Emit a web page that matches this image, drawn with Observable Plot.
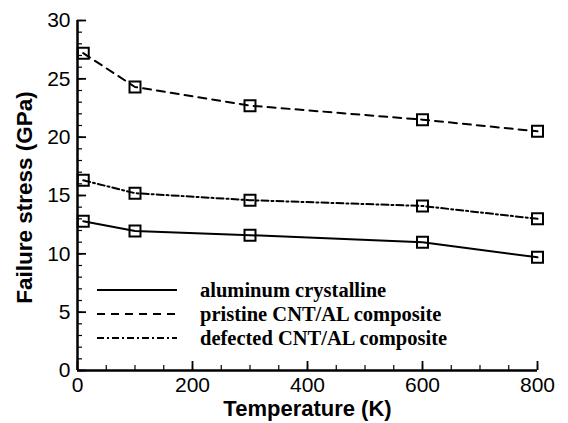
<!DOCTYPE html>
<html>
<head>
<meta charset="utf-8">
<script src="https://cdn.jsdelivr.net/npm/d3@7"></script>
<script src="https://cdn.jsdelivr.net/npm/@observablehq/plot@0.6"></script>
<style>
  html, body { margin: 0; padding: 0; background: #fff; }
  #wrap { position: relative; width: 568px; height: 423px; }
  .leg-row { position: absolute; left: 97px; height: 24px; display: flex; align-items: center; white-space: nowrap; }
  .leg-row svg { display: block; }
  .leg-row span { margin-left: 23px; font-family: "Liberation Serif", "Times New Roman", serif; font-weight: bold; font-size: 20.5px; color: #000; }
</style>
</head>
<body>
<div id="wrap"></div>
<script>
// ---- data ----
const temperatures = [10, 100, 300, 600, 800];
const aluminum = [12.8, 11.95, 11.6, 11.0, 9.7];
const pristine = [27.2, 24.3, 22.7, 21.5, 20.5];
const defected = [16.3, 15.2, 14.6, 14.1, 13.0];
const seriesNames = ["aluminum crystalline", "pristine CNT/AL composite", "defected CNT/AL composite"];
const seriesDash = ["none", "8,6", "7,3,2,3"];
const xTicks = [0, 200, 400, 600, 800];
const xMinorTicks = d3.range(0, 801, 50);
const yTicks = [0, 5, 10, 15, 20, 25, 30];
const yMinorTicks = d3.range(0, 31, 1);
const xLabel = "Temperature (K)";
const yLabel = "Failure stress (GPa)";

const seriesValues = [aluminum, pristine, defected];
const rows = seriesNames.map((name, i) =>
  temperatures.map((t, j) => ({series: name, T: t, stress: seriesValues[i][j]}))
);

const W = 568, H = 423, mL = 77, mR = 31, mT = 20, mB = 53;
const plotW = W - mL - mR, plotH = H - mT - mB;

const lineMarks = rows.map((r, i) =>
  Plot.line(r, {x: "T", y: "stress", stroke: "black", strokeWidth: 2,
    strokeDasharray: seriesDash[i] === "none" ? undefined : seriesDash[i]})
);
const dotMarks = rows.map(r =>
  Plot.dot(r, {x: "T", y: "stress", symbol: "square", r: 6.2, fill: "none", stroke: "black", strokeWidth: 2})
);

const chart = Plot.plot({
  width: W, height: H,
  marginLeft: mL, marginRight: mR, marginTop: mT, marginBottom: mB,
  style: {fontFamily: "'Liberation Sans', Arial, sans-serif", background: "white", color: "black"},
  x: {domain: [0, 800]},
  y: {domain: [0, 30]},
  marks: [
    // minor & major inward ticks
    Plot.tickX(xMinorTicks, {x: d => d, insetTop: plotH - 5, stroke: "black", strokeWidth: 1.2}),
    Plot.tickX(xTicks, {x: d => d, insetTop: plotH - 9, stroke: "black", strokeWidth: 1.8}),
    Plot.tickY(yMinorTicks, {y: d => d, insetRight: plotW - 5, stroke: "black", strokeWidth: 1.2}),
    Plot.tickY(yTicks, {y: d => d, insetRight: plotW - 9, stroke: "black", strokeWidth: 1.8}),
    Plot.axisX(xTicks, {tickSize: 0, tickPadding: 7, fontSize: 21, label: null}),
    Plot.axisY(yTicks, {tickSize: 0, tickPadding: 7, fontSize: 21, label: null}),
    ...lineMarks,
    ...dotMarks,
    Plot.ruleX([0], {stroke: "black", strokeWidth: 2.5}),
    Plot.ruleY([0], {stroke: "black", strokeWidth: 2.5}),
    Plot.text([xLabel], {text: d => d, frameAnchor: "bottom", textAnchor: "middle", lineAnchor: "middle", dy: 38, fontSize: 22, fontWeight: "bold"}),
    Plot.text([yLabel], {text: d => d, frameAnchor: "left", textAnchor: "middle", lineAnchor: "middle", dx: -53, dy: 2, rotate: -90, fontSize: 22.5, fontWeight: "bold"})
  ]
});

const wrap = document.getElementById("wrap");
wrap.appendChild(chart);

// legend overlay
const legendCenters = [290, 314, 338];
seriesNames.forEach((name, i) => {
  const row = document.createElement("div");
  row.className = "leg-row";
  row.style.top = (legendCenters[i] - 12) + "px";
  const ns = "http://www.w3.org/2000/svg";
  const svg = document.createElementNS(ns, "svg");
  svg.setAttribute("width", 80);
  svg.setAttribute("height", 6);
  const ln = document.createElementNS(ns, "line");
  ln.setAttribute("x1", 0); ln.setAttribute("x2", 80);
  ln.setAttribute("y1", 3); ln.setAttribute("y2", 3);
  ln.setAttribute("stroke", "black");
  ln.setAttribute("stroke-width", 2);
  if (seriesDash[i] !== "none") ln.setAttribute("stroke-dasharray", seriesDash[i]);
  svg.appendChild(ln);
  const span = document.createElement("span");
  span.textContent = name;
  row.appendChild(svg);
  row.appendChild(span);
  wrap.appendChild(row);
});
</script>
</body>
</html>
